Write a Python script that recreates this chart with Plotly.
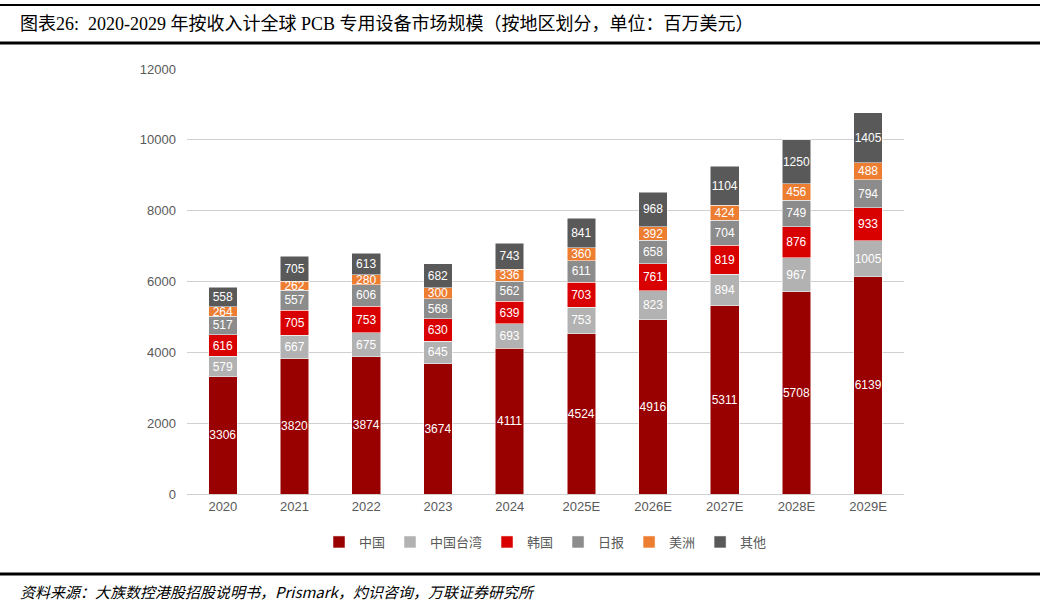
import plotly.graph_objects as go

years = ["2020", "2021", "2022", "2023", "2024", "2025E", "2026E", "2027E", "2028E", "2029E"]
china = [3306, 3820, 3874, 3674, 4111, 4524, 4916, 5311, 5708, 6139]
taiwan = [579, 667, 675, 645, 693, 753, 823, 894, 967, 1005]
korea = [616, 705, 753, 630, 639, 703, 761, 819, 876, 933]
japan = [517, 557, 606, 568, 562, 611, 658, 704, 749, 794]
america = [264, 262, 280, 300, 336, 360, 392, 424, 456, 488]
others = [558, 705, 613, 682, 743, 841, 968, 1104, 1250, 1405]
y_ticks = [0, 2000, 4000, 6000, 8000, 10000, 12000]

series = [
    ("中国", china, "#990000"),
    ("中国台湾", taiwan, "#B2B2B2"),
    ("韩国", korea, "#D90000"),
    ("日报", japan, "#8C8C8C"),
    ("美洲", america, "#ED7D31"),
    ("其他", others, "#595959"),
]

W, H = 1046, 606
L, R, T, B = 187, 904, 69, 494

fig = go.Figure()
for name, vals, col in series:
    fig.add_trace(go.Bar(
        x=years, y=vals, name=name,
        marker=dict(color=col, line=dict(color="white", width=0.5)),
        text=[str(v) for v in vals], textposition="inside", textangle=0,
        insidetextanchor="middle", constraintext="none",
        textfont=dict(color="white", size=12, family="Liberation Sans, Arial"),
        hoverinfo="skip",
    ))

def py(p):
    return (B - p) / (B - T)

def px(p):
    return (p - L) / (R - L)

shapes = [
    dict(type="line", xref="paper", yref="paper", x0=px(0), x1=px(1040), y0=py(5), y1=py(5),
         line=dict(color="black", width=2)),
    dict(type="line", xref="paper", yref="paper", x0=px(0), x1=px(1040), y0=py(43), y1=py(43),
         line=dict(color="black", width=3)),
    dict(type="line", xref="paper", yref="paper", x0=px(0), x1=px(1040), y0=py(574), y1=py(574),
         line=dict(color="black", width=3)),
]

annotations = [
    dict(text="图表26:  2020-2029 年按收入计全球 PCB 专用设备市场规模（按地区划分，单位：百万美元）",
         xref="paper", yref="paper", x=px(18), y=py(24), xanchor="left", yanchor="middle",
         showarrow=False, font=dict(size=18, color="black", family="Liberation Serif, Noto Sans CJK SC")),
    dict(text="<i>资料来源：大族数控港股招股说明书，Prismark，灼识咨询，万联证券研究所</i>",
         xref="paper", yref="paper", x=px(18), y=py(591), xanchor="left", yanchor="middle",
         showarrow=False, font=dict(size=15, color="black", family="Noto Sans CJK SC")),
]

fig.update_layout(
    width=W, height=H,
    margin=dict(l=L, r=W - R, t=T, b=H - B),
    barmode="stack", bargap=0.6,
    plot_bgcolor="white", paper_bgcolor="white",
    font=dict(family="Liberation Sans, Noto Sans CJK SC", color="#595959", size=13),
    xaxis=dict(showgrid=False, showline=True, linecolor="#D0D0D0", ticks="",
               tickfont=dict(size=13, color="#595959")),
    yaxis=dict(range=[0, 12000], tickvals=y_ticks, ticktext=[str(v) for v in y_ticks],
               showgrid=True, gridcolor="#D0D0D0", gridwidth=1, zeroline=False,
               showline=False, ticks="", ticklabelstandoff=10,
               tickfont=dict(size=13, color="#595959")),
    legend=dict(orientation="h", x=0.5, xanchor="center", y=py(542), yanchor="middle",
                font=dict(size=13, color="#595959", family="Noto Sans CJK SC"),
                itemwidth=30, traceorder="normal"),
    shapes=shapes, annotations=annotations,
)

fig.write_html("out.html")
